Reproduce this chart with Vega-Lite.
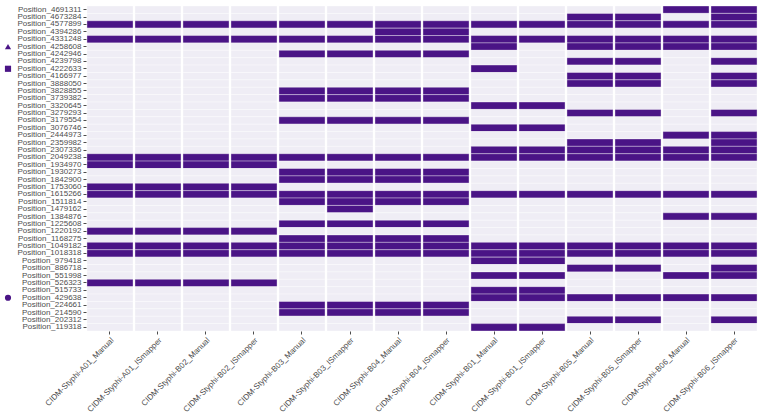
{
  "$schema": "https://vega.github.io/schema/vega-lite/v6.json",
  "padding": {"left": 4, "top": 5, "right": 5, "bottom": 5},
  "spacing": 4,
  "config": {
    "font": "Liberation Sans",
    "view": {"stroke": null},
    "axis": {"labelFont": "Liberation Sans", "labelFontSize": 8, "labelColor": "#4d4d4d", "tickColor": "#4d4d4d", "tickSize": 3, "domain": false, "grid": false, "title": null}
  },
  "datasets": {
    "markers": [
      {"p": "Position_4258608", "m": "triangle"},
      {"p": "Position_4222633", "m": "square"},
      {"p": "Position_429638", "m": "circle"}
    ],
    "cells": [
{"p":"Position_4691311","s":"CIDM-Styphi-A01_Manual","v":0},{"p":"Position_4691311","s":"CIDM-Styphi-A01_ISmapper","v":0},{"p":"Position_4691311","s":"CIDM-Styphi-B02_Manual","v":0},{"p":"Position_4691311","s":"CIDM-Styphi-B02_ISmapper","v":0},{"p":"Position_4691311","s":"CIDM-Styphi-B03_Manual","v":0},{"p":"Position_4691311","s":"CIDM-Styphi-B03_ISmapper","v":0},{"p":"Position_4691311","s":"CIDM-Styphi-B04_Manual","v":0},{"p":"Position_4691311","s":"CIDM-Styphi-B04_ISmapper","v":0},{"p":"Position_4691311","s":"CIDM-Styphi-B01_Manual","v":0},{"p":"Position_4691311","s":"CIDM-Styphi-B01_ISmapper","v":0},{"p":"Position_4691311","s":"CIDM-Styphi-B05_Manual","v":0},{"p":"Position_4691311","s":"CIDM-Styphi-B05_ISmapper","v":0},{"p":"Position_4691311","s":"CIDM-Styphi-B06_Manual","v":1},{"p":"Position_4691311","s":"CIDM-Styphi-B06_ISmapper","v":1},
{"p":"Position_4673284","s":"CIDM-Styphi-A01_Manual","v":0},{"p":"Position_4673284","s":"CIDM-Styphi-A01_ISmapper","v":0},{"p":"Position_4673284","s":"CIDM-Styphi-B02_Manual","v":0},{"p":"Position_4673284","s":"CIDM-Styphi-B02_ISmapper","v":0},{"p":"Position_4673284","s":"CIDM-Styphi-B03_Manual","v":0},{"p":"Position_4673284","s":"CIDM-Styphi-B03_ISmapper","v":0},{"p":"Position_4673284","s":"CIDM-Styphi-B04_Manual","v":0},{"p":"Position_4673284","s":"CIDM-Styphi-B04_ISmapper","v":0},{"p":"Position_4673284","s":"CIDM-Styphi-B01_Manual","v":0},{"p":"Position_4673284","s":"CIDM-Styphi-B01_ISmapper","v":0},{"p":"Position_4673284","s":"CIDM-Styphi-B05_Manual","v":1},{"p":"Position_4673284","s":"CIDM-Styphi-B05_ISmapper","v":1},{"p":"Position_4673284","s":"CIDM-Styphi-B06_Manual","v":0},{"p":"Position_4673284","s":"CIDM-Styphi-B06_ISmapper","v":1},
{"p":"Position_4577899","s":"CIDM-Styphi-A01_Manual","v":1},{"p":"Position_4577899","s":"CIDM-Styphi-A01_ISmapper","v":1},{"p":"Position_4577899","s":"CIDM-Styphi-B02_Manual","v":1},{"p":"Position_4577899","s":"CIDM-Styphi-B02_ISmapper","v":1},{"p":"Position_4577899","s":"CIDM-Styphi-B03_Manual","v":1},{"p":"Position_4577899","s":"CIDM-Styphi-B03_ISmapper","v":1},{"p":"Position_4577899","s":"CIDM-Styphi-B04_Manual","v":1},{"p":"Position_4577899","s":"CIDM-Styphi-B04_ISmapper","v":1},{"p":"Position_4577899","s":"CIDM-Styphi-B01_Manual","v":1},{"p":"Position_4577899","s":"CIDM-Styphi-B01_ISmapper","v":1},{"p":"Position_4577899","s":"CIDM-Styphi-B05_Manual","v":1},{"p":"Position_4577899","s":"CIDM-Styphi-B05_ISmapper","v":1},{"p":"Position_4577899","s":"CIDM-Styphi-B06_Manual","v":1},{"p":"Position_4577899","s":"CIDM-Styphi-B06_ISmapper","v":1},
{"p":"Position_4394286","s":"CIDM-Styphi-A01_Manual","v":0},{"p":"Position_4394286","s":"CIDM-Styphi-A01_ISmapper","v":0},{"p":"Position_4394286","s":"CIDM-Styphi-B02_Manual","v":0},{"p":"Position_4394286","s":"CIDM-Styphi-B02_ISmapper","v":0},{"p":"Position_4394286","s":"CIDM-Styphi-B03_Manual","v":0},{"p":"Position_4394286","s":"CIDM-Styphi-B03_ISmapper","v":0},{"p":"Position_4394286","s":"CIDM-Styphi-B04_Manual","v":1},{"p":"Position_4394286","s":"CIDM-Styphi-B04_ISmapper","v":1},{"p":"Position_4394286","s":"CIDM-Styphi-B01_Manual","v":0},{"p":"Position_4394286","s":"CIDM-Styphi-B01_ISmapper","v":0},{"p":"Position_4394286","s":"CIDM-Styphi-B05_Manual","v":0},{"p":"Position_4394286","s":"CIDM-Styphi-B05_ISmapper","v":0},{"p":"Position_4394286","s":"CIDM-Styphi-B06_Manual","v":0},{"p":"Position_4394286","s":"CIDM-Styphi-B06_ISmapper","v":0},
{"p":"Position_4331248","s":"CIDM-Styphi-A01_Manual","v":1},{"p":"Position_4331248","s":"CIDM-Styphi-A01_ISmapper","v":1},{"p":"Position_4331248","s":"CIDM-Styphi-B02_Manual","v":1},{"p":"Position_4331248","s":"CIDM-Styphi-B02_ISmapper","v":1},{"p":"Position_4331248","s":"CIDM-Styphi-B03_Manual","v":1},{"p":"Position_4331248","s":"CIDM-Styphi-B03_ISmapper","v":1},{"p":"Position_4331248","s":"CIDM-Styphi-B04_Manual","v":1},{"p":"Position_4331248","s":"CIDM-Styphi-B04_ISmapper","v":1},{"p":"Position_4331248","s":"CIDM-Styphi-B01_Manual","v":1},{"p":"Position_4331248","s":"CIDM-Styphi-B01_ISmapper","v":1},{"p":"Position_4331248","s":"CIDM-Styphi-B05_Manual","v":1},{"p":"Position_4331248","s":"CIDM-Styphi-B05_ISmapper","v":1},{"p":"Position_4331248","s":"CIDM-Styphi-B06_Manual","v":1},{"p":"Position_4331248","s":"CIDM-Styphi-B06_ISmapper","v":1},
{"p":"Position_4258608","s":"CIDM-Styphi-A01_Manual","v":0},{"p":"Position_4258608","s":"CIDM-Styphi-A01_ISmapper","v":0},{"p":"Position_4258608","s":"CIDM-Styphi-B02_Manual","v":0},{"p":"Position_4258608","s":"CIDM-Styphi-B02_ISmapper","v":0},{"p":"Position_4258608","s":"CIDM-Styphi-B03_Manual","v":0},{"p":"Position_4258608","s":"CIDM-Styphi-B03_ISmapper","v":0},{"p":"Position_4258608","s":"CIDM-Styphi-B04_Manual","v":0},{"p":"Position_4258608","s":"CIDM-Styphi-B04_ISmapper","v":0},{"p":"Position_4258608","s":"CIDM-Styphi-B01_Manual","v":1},{"p":"Position_4258608","s":"CIDM-Styphi-B01_ISmapper","v":0},{"p":"Position_4258608","s":"CIDM-Styphi-B05_Manual","v":1},{"p":"Position_4258608","s":"CIDM-Styphi-B05_ISmapper","v":1},{"p":"Position_4258608","s":"CIDM-Styphi-B06_Manual","v":1},{"p":"Position_4258608","s":"CIDM-Styphi-B06_ISmapper","v":1},
{"p":"Position_4242946","s":"CIDM-Styphi-A01_Manual","v":0},{"p":"Position_4242946","s":"CIDM-Styphi-A01_ISmapper","v":0},{"p":"Position_4242946","s":"CIDM-Styphi-B02_Manual","v":0},{"p":"Position_4242946","s":"CIDM-Styphi-B02_ISmapper","v":0},{"p":"Position_4242946","s":"CIDM-Styphi-B03_Manual","v":1},{"p":"Position_4242946","s":"CIDM-Styphi-B03_ISmapper","v":1},{"p":"Position_4242946","s":"CIDM-Styphi-B04_Manual","v":1},{"p":"Position_4242946","s":"CIDM-Styphi-B04_ISmapper","v":1},{"p":"Position_4242946","s":"CIDM-Styphi-B01_Manual","v":0},{"p":"Position_4242946","s":"CIDM-Styphi-B01_ISmapper","v":0},{"p":"Position_4242946","s":"CIDM-Styphi-B05_Manual","v":0},{"p":"Position_4242946","s":"CIDM-Styphi-B05_ISmapper","v":0},{"p":"Position_4242946","s":"CIDM-Styphi-B06_Manual","v":0},{"p":"Position_4242946","s":"CIDM-Styphi-B06_ISmapper","v":0},
{"p":"Position_4239798","s":"CIDM-Styphi-A01_Manual","v":0},{"p":"Position_4239798","s":"CIDM-Styphi-A01_ISmapper","v":0},{"p":"Position_4239798","s":"CIDM-Styphi-B02_Manual","v":0},{"p":"Position_4239798","s":"CIDM-Styphi-B02_ISmapper","v":0},{"p":"Position_4239798","s":"CIDM-Styphi-B03_Manual","v":0},{"p":"Position_4239798","s":"CIDM-Styphi-B03_ISmapper","v":0},{"p":"Position_4239798","s":"CIDM-Styphi-B04_Manual","v":0},{"p":"Position_4239798","s":"CIDM-Styphi-B04_ISmapper","v":0},{"p":"Position_4239798","s":"CIDM-Styphi-B01_Manual","v":0},{"p":"Position_4239798","s":"CIDM-Styphi-B01_ISmapper","v":0},{"p":"Position_4239798","s":"CIDM-Styphi-B05_Manual","v":1},{"p":"Position_4239798","s":"CIDM-Styphi-B05_ISmapper","v":1},{"p":"Position_4239798","s":"CIDM-Styphi-B06_Manual","v":0},{"p":"Position_4239798","s":"CIDM-Styphi-B06_ISmapper","v":1},
{"p":"Position_4222633","s":"CIDM-Styphi-A01_Manual","v":0},{"p":"Position_4222633","s":"CIDM-Styphi-A01_ISmapper","v":0},{"p":"Position_4222633","s":"CIDM-Styphi-B02_Manual","v":0},{"p":"Position_4222633","s":"CIDM-Styphi-B02_ISmapper","v":0},{"p":"Position_4222633","s":"CIDM-Styphi-B03_Manual","v":0},{"p":"Position_4222633","s":"CIDM-Styphi-B03_ISmapper","v":0},{"p":"Position_4222633","s":"CIDM-Styphi-B04_Manual","v":0},{"p":"Position_4222633","s":"CIDM-Styphi-B04_ISmapper","v":0},{"p":"Position_4222633","s":"CIDM-Styphi-B01_Manual","v":1},{"p":"Position_4222633","s":"CIDM-Styphi-B01_ISmapper","v":0},{"p":"Position_4222633","s":"CIDM-Styphi-B05_Manual","v":0},{"p":"Position_4222633","s":"CIDM-Styphi-B05_ISmapper","v":0},{"p":"Position_4222633","s":"CIDM-Styphi-B06_Manual","v":0},{"p":"Position_4222633","s":"CIDM-Styphi-B06_ISmapper","v":0},
{"p":"Position_4166977","s":"CIDM-Styphi-A01_Manual","v":0},{"p":"Position_4166977","s":"CIDM-Styphi-A01_ISmapper","v":0},{"p":"Position_4166977","s":"CIDM-Styphi-B02_Manual","v":0},{"p":"Position_4166977","s":"CIDM-Styphi-B02_ISmapper","v":0},{"p":"Position_4166977","s":"CIDM-Styphi-B03_Manual","v":0},{"p":"Position_4166977","s":"CIDM-Styphi-B03_ISmapper","v":0},{"p":"Position_4166977","s":"CIDM-Styphi-B04_Manual","v":0},{"p":"Position_4166977","s":"CIDM-Styphi-B04_ISmapper","v":0},{"p":"Position_4166977","s":"CIDM-Styphi-B01_Manual","v":0},{"p":"Position_4166977","s":"CIDM-Styphi-B01_ISmapper","v":0},{"p":"Position_4166977","s":"CIDM-Styphi-B05_Manual","v":1},{"p":"Position_4166977","s":"CIDM-Styphi-B05_ISmapper","v":1},{"p":"Position_4166977","s":"CIDM-Styphi-B06_Manual","v":0},{"p":"Position_4166977","s":"CIDM-Styphi-B06_ISmapper","v":1},
{"p":"Position_3888050","s":"CIDM-Styphi-A01_Manual","v":0},{"p":"Position_3888050","s":"CIDM-Styphi-A01_ISmapper","v":0},{"p":"Position_3888050","s":"CIDM-Styphi-B02_Manual","v":0},{"p":"Position_3888050","s":"CIDM-Styphi-B02_ISmapper","v":0},{"p":"Position_3888050","s":"CIDM-Styphi-B03_Manual","v":0},{"p":"Position_3888050","s":"CIDM-Styphi-B03_ISmapper","v":0},{"p":"Position_3888050","s":"CIDM-Styphi-B04_Manual","v":0},{"p":"Position_3888050","s":"CIDM-Styphi-B04_ISmapper","v":0},{"p":"Position_3888050","s":"CIDM-Styphi-B01_Manual","v":0},{"p":"Position_3888050","s":"CIDM-Styphi-B01_ISmapper","v":0},{"p":"Position_3888050","s":"CIDM-Styphi-B05_Manual","v":1},{"p":"Position_3888050","s":"CIDM-Styphi-B05_ISmapper","v":1},{"p":"Position_3888050","s":"CIDM-Styphi-B06_Manual","v":0},{"p":"Position_3888050","s":"CIDM-Styphi-B06_ISmapper","v":1},
{"p":"Position_3828855","s":"CIDM-Styphi-A01_Manual","v":0},{"p":"Position_3828855","s":"CIDM-Styphi-A01_ISmapper","v":0},{"p":"Position_3828855","s":"CIDM-Styphi-B02_Manual","v":0},{"p":"Position_3828855","s":"CIDM-Styphi-B02_ISmapper","v":0},{"p":"Position_3828855","s":"CIDM-Styphi-B03_Manual","v":1},{"p":"Position_3828855","s":"CIDM-Styphi-B03_ISmapper","v":1},{"p":"Position_3828855","s":"CIDM-Styphi-B04_Manual","v":1},{"p":"Position_3828855","s":"CIDM-Styphi-B04_ISmapper","v":1},{"p":"Position_3828855","s":"CIDM-Styphi-B01_Manual","v":0},{"p":"Position_3828855","s":"CIDM-Styphi-B01_ISmapper","v":0},{"p":"Position_3828855","s":"CIDM-Styphi-B05_Manual","v":0},{"p":"Position_3828855","s":"CIDM-Styphi-B05_ISmapper","v":0},{"p":"Position_3828855","s":"CIDM-Styphi-B06_Manual","v":0},{"p":"Position_3828855","s":"CIDM-Styphi-B06_ISmapper","v":0},
{"p":"Position_3739382","s":"CIDM-Styphi-A01_Manual","v":0},{"p":"Position_3739382","s":"CIDM-Styphi-A01_ISmapper","v":0},{"p":"Position_3739382","s":"CIDM-Styphi-B02_Manual","v":0},{"p":"Position_3739382","s":"CIDM-Styphi-B02_ISmapper","v":0},{"p":"Position_3739382","s":"CIDM-Styphi-B03_Manual","v":1},{"p":"Position_3739382","s":"CIDM-Styphi-B03_ISmapper","v":1},{"p":"Position_3739382","s":"CIDM-Styphi-B04_Manual","v":1},{"p":"Position_3739382","s":"CIDM-Styphi-B04_ISmapper","v":1},{"p":"Position_3739382","s":"CIDM-Styphi-B01_Manual","v":0},{"p":"Position_3739382","s":"CIDM-Styphi-B01_ISmapper","v":0},{"p":"Position_3739382","s":"CIDM-Styphi-B05_Manual","v":0},{"p":"Position_3739382","s":"CIDM-Styphi-B05_ISmapper","v":0},{"p":"Position_3739382","s":"CIDM-Styphi-B06_Manual","v":0},{"p":"Position_3739382","s":"CIDM-Styphi-B06_ISmapper","v":0},
{"p":"Position_3320645","s":"CIDM-Styphi-A01_Manual","v":0},{"p":"Position_3320645","s":"CIDM-Styphi-A01_ISmapper","v":0},{"p":"Position_3320645","s":"CIDM-Styphi-B02_Manual","v":0},{"p":"Position_3320645","s":"CIDM-Styphi-B02_ISmapper","v":0},{"p":"Position_3320645","s":"CIDM-Styphi-B03_Manual","v":0},{"p":"Position_3320645","s":"CIDM-Styphi-B03_ISmapper","v":0},{"p":"Position_3320645","s":"CIDM-Styphi-B04_Manual","v":0},{"p":"Position_3320645","s":"CIDM-Styphi-B04_ISmapper","v":0},{"p":"Position_3320645","s":"CIDM-Styphi-B01_Manual","v":1},{"p":"Position_3320645","s":"CIDM-Styphi-B01_ISmapper","v":1},{"p":"Position_3320645","s":"CIDM-Styphi-B05_Manual","v":0},{"p":"Position_3320645","s":"CIDM-Styphi-B05_ISmapper","v":0},{"p":"Position_3320645","s":"CIDM-Styphi-B06_Manual","v":0},{"p":"Position_3320645","s":"CIDM-Styphi-B06_ISmapper","v":0},
{"p":"Position_3279293","s":"CIDM-Styphi-A01_Manual","v":0},{"p":"Position_3279293","s":"CIDM-Styphi-A01_ISmapper","v":0},{"p":"Position_3279293","s":"CIDM-Styphi-B02_Manual","v":0},{"p":"Position_3279293","s":"CIDM-Styphi-B02_ISmapper","v":0},{"p":"Position_3279293","s":"CIDM-Styphi-B03_Manual","v":0},{"p":"Position_3279293","s":"CIDM-Styphi-B03_ISmapper","v":0},{"p":"Position_3279293","s":"CIDM-Styphi-B04_Manual","v":0},{"p":"Position_3279293","s":"CIDM-Styphi-B04_ISmapper","v":0},{"p":"Position_3279293","s":"CIDM-Styphi-B01_Manual","v":0},{"p":"Position_3279293","s":"CIDM-Styphi-B01_ISmapper","v":0},{"p":"Position_3279293","s":"CIDM-Styphi-B05_Manual","v":1},{"p":"Position_3279293","s":"CIDM-Styphi-B05_ISmapper","v":1},{"p":"Position_3279293","s":"CIDM-Styphi-B06_Manual","v":0},{"p":"Position_3279293","s":"CIDM-Styphi-B06_ISmapper","v":1},
{"p":"Position_3179554","s":"CIDM-Styphi-A01_Manual","v":0},{"p":"Position_3179554","s":"CIDM-Styphi-A01_ISmapper","v":0},{"p":"Position_3179554","s":"CIDM-Styphi-B02_Manual","v":0},{"p":"Position_3179554","s":"CIDM-Styphi-B02_ISmapper","v":0},{"p":"Position_3179554","s":"CIDM-Styphi-B03_Manual","v":1},{"p":"Position_3179554","s":"CIDM-Styphi-B03_ISmapper","v":1},{"p":"Position_3179554","s":"CIDM-Styphi-B04_Manual","v":1},{"p":"Position_3179554","s":"CIDM-Styphi-B04_ISmapper","v":1},{"p":"Position_3179554","s":"CIDM-Styphi-B01_Manual","v":0},{"p":"Position_3179554","s":"CIDM-Styphi-B01_ISmapper","v":0},{"p":"Position_3179554","s":"CIDM-Styphi-B05_Manual","v":0},{"p":"Position_3179554","s":"CIDM-Styphi-B05_ISmapper","v":0},{"p":"Position_3179554","s":"CIDM-Styphi-B06_Manual","v":0},{"p":"Position_3179554","s":"CIDM-Styphi-B06_ISmapper","v":0},
{"p":"Position_3076746","s":"CIDM-Styphi-A01_Manual","v":0},{"p":"Position_3076746","s":"CIDM-Styphi-A01_ISmapper","v":0},{"p":"Position_3076746","s":"CIDM-Styphi-B02_Manual","v":0},{"p":"Position_3076746","s":"CIDM-Styphi-B02_ISmapper","v":0},{"p":"Position_3076746","s":"CIDM-Styphi-B03_Manual","v":0},{"p":"Position_3076746","s":"CIDM-Styphi-B03_ISmapper","v":0},{"p":"Position_3076746","s":"CIDM-Styphi-B04_Manual","v":0},{"p":"Position_3076746","s":"CIDM-Styphi-B04_ISmapper","v":0},{"p":"Position_3076746","s":"CIDM-Styphi-B01_Manual","v":1},{"p":"Position_3076746","s":"CIDM-Styphi-B01_ISmapper","v":1},{"p":"Position_3076746","s":"CIDM-Styphi-B05_Manual","v":0},{"p":"Position_3076746","s":"CIDM-Styphi-B05_ISmapper","v":0},{"p":"Position_3076746","s":"CIDM-Styphi-B06_Manual","v":0},{"p":"Position_3076746","s":"CIDM-Styphi-B06_ISmapper","v":0},
{"p":"Position_2444973","s":"CIDM-Styphi-A01_Manual","v":0},{"p":"Position_2444973","s":"CIDM-Styphi-A01_ISmapper","v":0},{"p":"Position_2444973","s":"CIDM-Styphi-B02_Manual","v":0},{"p":"Position_2444973","s":"CIDM-Styphi-B02_ISmapper","v":0},{"p":"Position_2444973","s":"CIDM-Styphi-B03_Manual","v":0},{"p":"Position_2444973","s":"CIDM-Styphi-B03_ISmapper","v":0},{"p":"Position_2444973","s":"CIDM-Styphi-B04_Manual","v":0},{"p":"Position_2444973","s":"CIDM-Styphi-B04_ISmapper","v":0},{"p":"Position_2444973","s":"CIDM-Styphi-B01_Manual","v":0},{"p":"Position_2444973","s":"CIDM-Styphi-B01_ISmapper","v":0},{"p":"Position_2444973","s":"CIDM-Styphi-B05_Manual","v":0},{"p":"Position_2444973","s":"CIDM-Styphi-B05_ISmapper","v":0},{"p":"Position_2444973","s":"CIDM-Styphi-B06_Manual","v":1},{"p":"Position_2444973","s":"CIDM-Styphi-B06_ISmapper","v":1},
{"p":"Position_2359982","s":"CIDM-Styphi-A01_Manual","v":0},{"p":"Position_2359982","s":"CIDM-Styphi-A01_ISmapper","v":0},{"p":"Position_2359982","s":"CIDM-Styphi-B02_Manual","v":0},{"p":"Position_2359982","s":"CIDM-Styphi-B02_ISmapper","v":0},{"p":"Position_2359982","s":"CIDM-Styphi-B03_Manual","v":0},{"p":"Position_2359982","s":"CIDM-Styphi-B03_ISmapper","v":0},{"p":"Position_2359982","s":"CIDM-Styphi-B04_Manual","v":0},{"p":"Position_2359982","s":"CIDM-Styphi-B04_ISmapper","v":0},{"p":"Position_2359982","s":"CIDM-Styphi-B01_Manual","v":0},{"p":"Position_2359982","s":"CIDM-Styphi-B01_ISmapper","v":0},{"p":"Position_2359982","s":"CIDM-Styphi-B05_Manual","v":1},{"p":"Position_2359982","s":"CIDM-Styphi-B05_ISmapper","v":1},{"p":"Position_2359982","s":"CIDM-Styphi-B06_Manual","v":0},{"p":"Position_2359982","s":"CIDM-Styphi-B06_ISmapper","v":1},
{"p":"Position_2307336","s":"CIDM-Styphi-A01_Manual","v":0},{"p":"Position_2307336","s":"CIDM-Styphi-A01_ISmapper","v":0},{"p":"Position_2307336","s":"CIDM-Styphi-B02_Manual","v":0},{"p":"Position_2307336","s":"CIDM-Styphi-B02_ISmapper","v":0},{"p":"Position_2307336","s":"CIDM-Styphi-B03_Manual","v":0},{"p":"Position_2307336","s":"CIDM-Styphi-B03_ISmapper","v":0},{"p":"Position_2307336","s":"CIDM-Styphi-B04_Manual","v":0},{"p":"Position_2307336","s":"CIDM-Styphi-B04_ISmapper","v":0},{"p":"Position_2307336","s":"CIDM-Styphi-B01_Manual","v":1},{"p":"Position_2307336","s":"CIDM-Styphi-B01_ISmapper","v":1},{"p":"Position_2307336","s":"CIDM-Styphi-B05_Manual","v":1},{"p":"Position_2307336","s":"CIDM-Styphi-B05_ISmapper","v":1},{"p":"Position_2307336","s":"CIDM-Styphi-B06_Manual","v":1},{"p":"Position_2307336","s":"CIDM-Styphi-B06_ISmapper","v":1},
{"p":"Position_2049238","s":"CIDM-Styphi-A01_Manual","v":1},{"p":"Position_2049238","s":"CIDM-Styphi-A01_ISmapper","v":1},{"p":"Position_2049238","s":"CIDM-Styphi-B02_Manual","v":1},{"p":"Position_2049238","s":"CIDM-Styphi-B02_ISmapper","v":1},{"p":"Position_2049238","s":"CIDM-Styphi-B03_Manual","v":1},{"p":"Position_2049238","s":"CIDM-Styphi-B03_ISmapper","v":1},{"p":"Position_2049238","s":"CIDM-Styphi-B04_Manual","v":1},{"p":"Position_2049238","s":"CIDM-Styphi-B04_ISmapper","v":1},{"p":"Position_2049238","s":"CIDM-Styphi-B01_Manual","v":1},{"p":"Position_2049238","s":"CIDM-Styphi-B01_ISmapper","v":1},{"p":"Position_2049238","s":"CIDM-Styphi-B05_Manual","v":1},{"p":"Position_2049238","s":"CIDM-Styphi-B05_ISmapper","v":1},{"p":"Position_2049238","s":"CIDM-Styphi-B06_Manual","v":1},{"p":"Position_2049238","s":"CIDM-Styphi-B06_ISmapper","v":1},
{"p":"Position_1934970","s":"CIDM-Styphi-A01_Manual","v":1},{"p":"Position_1934970","s":"CIDM-Styphi-A01_ISmapper","v":1},{"p":"Position_1934970","s":"CIDM-Styphi-B02_Manual","v":1},{"p":"Position_1934970","s":"CIDM-Styphi-B02_ISmapper","v":1},{"p":"Position_1934970","s":"CIDM-Styphi-B03_Manual","v":0},{"p":"Position_1934970","s":"CIDM-Styphi-B03_ISmapper","v":0},{"p":"Position_1934970","s":"CIDM-Styphi-B04_Manual","v":0},{"p":"Position_1934970","s":"CIDM-Styphi-B04_ISmapper","v":0},{"p":"Position_1934970","s":"CIDM-Styphi-B01_Manual","v":0},{"p":"Position_1934970","s":"CIDM-Styphi-B01_ISmapper","v":0},{"p":"Position_1934970","s":"CIDM-Styphi-B05_Manual","v":0},{"p":"Position_1934970","s":"CIDM-Styphi-B05_ISmapper","v":0},{"p":"Position_1934970","s":"CIDM-Styphi-B06_Manual","v":0},{"p":"Position_1934970","s":"CIDM-Styphi-B06_ISmapper","v":0},
{"p":"Position_1930273","s":"CIDM-Styphi-A01_Manual","v":0},{"p":"Position_1930273","s":"CIDM-Styphi-A01_ISmapper","v":0},{"p":"Position_1930273","s":"CIDM-Styphi-B02_Manual","v":0},{"p":"Position_1930273","s":"CIDM-Styphi-B02_ISmapper","v":0},{"p":"Position_1930273","s":"CIDM-Styphi-B03_Manual","v":1},{"p":"Position_1930273","s":"CIDM-Styphi-B03_ISmapper","v":1},{"p":"Position_1930273","s":"CIDM-Styphi-B04_Manual","v":1},{"p":"Position_1930273","s":"CIDM-Styphi-B04_ISmapper","v":1},{"p":"Position_1930273","s":"CIDM-Styphi-B01_Manual","v":0},{"p":"Position_1930273","s":"CIDM-Styphi-B01_ISmapper","v":0},{"p":"Position_1930273","s":"CIDM-Styphi-B05_Manual","v":0},{"p":"Position_1930273","s":"CIDM-Styphi-B05_ISmapper","v":0},{"p":"Position_1930273","s":"CIDM-Styphi-B06_Manual","v":0},{"p":"Position_1930273","s":"CIDM-Styphi-B06_ISmapper","v":0},
{"p":"Position_1842900","s":"CIDM-Styphi-A01_Manual","v":0},{"p":"Position_1842900","s":"CIDM-Styphi-A01_ISmapper","v":0},{"p":"Position_1842900","s":"CIDM-Styphi-B02_Manual","v":0},{"p":"Position_1842900","s":"CIDM-Styphi-B02_ISmapper","v":0},{"p":"Position_1842900","s":"CIDM-Styphi-B03_Manual","v":1},{"p":"Position_1842900","s":"CIDM-Styphi-B03_ISmapper","v":1},{"p":"Position_1842900","s":"CIDM-Styphi-B04_Manual","v":1},{"p":"Position_1842900","s":"CIDM-Styphi-B04_ISmapper","v":1},{"p":"Position_1842900","s":"CIDM-Styphi-B01_Manual","v":0},{"p":"Position_1842900","s":"CIDM-Styphi-B01_ISmapper","v":0},{"p":"Position_1842900","s":"CIDM-Styphi-B05_Manual","v":0},{"p":"Position_1842900","s":"CIDM-Styphi-B05_ISmapper","v":0},{"p":"Position_1842900","s":"CIDM-Styphi-B06_Manual","v":0},{"p":"Position_1842900","s":"CIDM-Styphi-B06_ISmapper","v":0},
{"p":"Position_1753060","s":"CIDM-Styphi-A01_Manual","v":1},{"p":"Position_1753060","s":"CIDM-Styphi-A01_ISmapper","v":1},{"p":"Position_1753060","s":"CIDM-Styphi-B02_Manual","v":1},{"p":"Position_1753060","s":"CIDM-Styphi-B02_ISmapper","v":1},{"p":"Position_1753060","s":"CIDM-Styphi-B03_Manual","v":0},{"p":"Position_1753060","s":"CIDM-Styphi-B03_ISmapper","v":0},{"p":"Position_1753060","s":"CIDM-Styphi-B04_Manual","v":0},{"p":"Position_1753060","s":"CIDM-Styphi-B04_ISmapper","v":0},{"p":"Position_1753060","s":"CIDM-Styphi-B01_Manual","v":0},{"p":"Position_1753060","s":"CIDM-Styphi-B01_ISmapper","v":0},{"p":"Position_1753060","s":"CIDM-Styphi-B05_Manual","v":0},{"p":"Position_1753060","s":"CIDM-Styphi-B05_ISmapper","v":0},{"p":"Position_1753060","s":"CIDM-Styphi-B06_Manual","v":0},{"p":"Position_1753060","s":"CIDM-Styphi-B06_ISmapper","v":0},
{"p":"Position_1615266","s":"CIDM-Styphi-A01_Manual","v":1},{"p":"Position_1615266","s":"CIDM-Styphi-A01_ISmapper","v":1},{"p":"Position_1615266","s":"CIDM-Styphi-B02_Manual","v":1},{"p":"Position_1615266","s":"CIDM-Styphi-B02_ISmapper","v":1},{"p":"Position_1615266","s":"CIDM-Styphi-B03_Manual","v":1},{"p":"Position_1615266","s":"CIDM-Styphi-B03_ISmapper","v":1},{"p":"Position_1615266","s":"CIDM-Styphi-B04_Manual","v":1},{"p":"Position_1615266","s":"CIDM-Styphi-B04_ISmapper","v":1},{"p":"Position_1615266","s":"CIDM-Styphi-B01_Manual","v":1},{"p":"Position_1615266","s":"CIDM-Styphi-B01_ISmapper","v":1},{"p":"Position_1615266","s":"CIDM-Styphi-B05_Manual","v":1},{"p":"Position_1615266","s":"CIDM-Styphi-B05_ISmapper","v":1},{"p":"Position_1615266","s":"CIDM-Styphi-B06_Manual","v":1},{"p":"Position_1615266","s":"CIDM-Styphi-B06_ISmapper","v":1},
{"p":"Position_1511814","s":"CIDM-Styphi-A01_Manual","v":0},{"p":"Position_1511814","s":"CIDM-Styphi-A01_ISmapper","v":0},{"p":"Position_1511814","s":"CIDM-Styphi-B02_Manual","v":0},{"p":"Position_1511814","s":"CIDM-Styphi-B02_ISmapper","v":0},{"p":"Position_1511814","s":"CIDM-Styphi-B03_Manual","v":1},{"p":"Position_1511814","s":"CIDM-Styphi-B03_ISmapper","v":1},{"p":"Position_1511814","s":"CIDM-Styphi-B04_Manual","v":1},{"p":"Position_1511814","s":"CIDM-Styphi-B04_ISmapper","v":1},{"p":"Position_1511814","s":"CIDM-Styphi-B01_Manual","v":0},{"p":"Position_1511814","s":"CIDM-Styphi-B01_ISmapper","v":0},{"p":"Position_1511814","s":"CIDM-Styphi-B05_Manual","v":0},{"p":"Position_1511814","s":"CIDM-Styphi-B05_ISmapper","v":0},{"p":"Position_1511814","s":"CIDM-Styphi-B06_Manual","v":0},{"p":"Position_1511814","s":"CIDM-Styphi-B06_ISmapper","v":0},
{"p":"Position_1479162","s":"CIDM-Styphi-A01_Manual","v":0},{"p":"Position_1479162","s":"CIDM-Styphi-A01_ISmapper","v":0},{"p":"Position_1479162","s":"CIDM-Styphi-B02_Manual","v":0},{"p":"Position_1479162","s":"CIDM-Styphi-B02_ISmapper","v":0},{"p":"Position_1479162","s":"CIDM-Styphi-B03_Manual","v":0},{"p":"Position_1479162","s":"CIDM-Styphi-B03_ISmapper","v":1},{"p":"Position_1479162","s":"CIDM-Styphi-B04_Manual","v":0},{"p":"Position_1479162","s":"CIDM-Styphi-B04_ISmapper","v":0},{"p":"Position_1479162","s":"CIDM-Styphi-B01_Manual","v":0},{"p":"Position_1479162","s":"CIDM-Styphi-B01_ISmapper","v":0},{"p":"Position_1479162","s":"CIDM-Styphi-B05_Manual","v":0},{"p":"Position_1479162","s":"CIDM-Styphi-B05_ISmapper","v":0},{"p":"Position_1479162","s":"CIDM-Styphi-B06_Manual","v":0},{"p":"Position_1479162","s":"CIDM-Styphi-B06_ISmapper","v":0},
{"p":"Position_1384876","s":"CIDM-Styphi-A01_Manual","v":0},{"p":"Position_1384876","s":"CIDM-Styphi-A01_ISmapper","v":0},{"p":"Position_1384876","s":"CIDM-Styphi-B02_Manual","v":0},{"p":"Position_1384876","s":"CIDM-Styphi-B02_ISmapper","v":0},{"p":"Position_1384876","s":"CIDM-Styphi-B03_Manual","v":0},{"p":"Position_1384876","s":"CIDM-Styphi-B03_ISmapper","v":0},{"p":"Position_1384876","s":"CIDM-Styphi-B04_Manual","v":0},{"p":"Position_1384876","s":"CIDM-Styphi-B04_ISmapper","v":0},{"p":"Position_1384876","s":"CIDM-Styphi-B01_Manual","v":0},{"p":"Position_1384876","s":"CIDM-Styphi-B01_ISmapper","v":0},{"p":"Position_1384876","s":"CIDM-Styphi-B05_Manual","v":0},{"p":"Position_1384876","s":"CIDM-Styphi-B05_ISmapper","v":0},{"p":"Position_1384876","s":"CIDM-Styphi-B06_Manual","v":1},{"p":"Position_1384876","s":"CIDM-Styphi-B06_ISmapper","v":1},
{"p":"Position_1225608","s":"CIDM-Styphi-A01_Manual","v":0},{"p":"Position_1225608","s":"CIDM-Styphi-A01_ISmapper","v":0},{"p":"Position_1225608","s":"CIDM-Styphi-B02_Manual","v":0},{"p":"Position_1225608","s":"CIDM-Styphi-B02_ISmapper","v":0},{"p":"Position_1225608","s":"CIDM-Styphi-B03_Manual","v":1},{"p":"Position_1225608","s":"CIDM-Styphi-B03_ISmapper","v":1},{"p":"Position_1225608","s":"CIDM-Styphi-B04_Manual","v":1},{"p":"Position_1225608","s":"CIDM-Styphi-B04_ISmapper","v":1},{"p":"Position_1225608","s":"CIDM-Styphi-B01_Manual","v":0},{"p":"Position_1225608","s":"CIDM-Styphi-B01_ISmapper","v":0},{"p":"Position_1225608","s":"CIDM-Styphi-B05_Manual","v":0},{"p":"Position_1225608","s":"CIDM-Styphi-B05_ISmapper","v":0},{"p":"Position_1225608","s":"CIDM-Styphi-B06_Manual","v":0},{"p":"Position_1225608","s":"CIDM-Styphi-B06_ISmapper","v":0},
{"p":"Position_1220192","s":"CIDM-Styphi-A01_Manual","v":1},{"p":"Position_1220192","s":"CIDM-Styphi-A01_ISmapper","v":1},{"p":"Position_1220192","s":"CIDM-Styphi-B02_Manual","v":1},{"p":"Position_1220192","s":"CIDM-Styphi-B02_ISmapper","v":1},{"p":"Position_1220192","s":"CIDM-Styphi-B03_Manual","v":0},{"p":"Position_1220192","s":"CIDM-Styphi-B03_ISmapper","v":0},{"p":"Position_1220192","s":"CIDM-Styphi-B04_Manual","v":0},{"p":"Position_1220192","s":"CIDM-Styphi-B04_ISmapper","v":0},{"p":"Position_1220192","s":"CIDM-Styphi-B01_Manual","v":0},{"p":"Position_1220192","s":"CIDM-Styphi-B01_ISmapper","v":0},{"p":"Position_1220192","s":"CIDM-Styphi-B05_Manual","v":0},{"p":"Position_1220192","s":"CIDM-Styphi-B05_ISmapper","v":0},{"p":"Position_1220192","s":"CIDM-Styphi-B06_Manual","v":0},{"p":"Position_1220192","s":"CIDM-Styphi-B06_ISmapper","v":0},
{"p":"Position_1168275","s":"CIDM-Styphi-A01_Manual","v":0},{"p":"Position_1168275","s":"CIDM-Styphi-A01_ISmapper","v":0},{"p":"Position_1168275","s":"CIDM-Styphi-B02_Manual","v":0},{"p":"Position_1168275","s":"CIDM-Styphi-B02_ISmapper","v":0},{"p":"Position_1168275","s":"CIDM-Styphi-B03_Manual","v":1},{"p":"Position_1168275","s":"CIDM-Styphi-B03_ISmapper","v":1},{"p":"Position_1168275","s":"CIDM-Styphi-B04_Manual","v":1},{"p":"Position_1168275","s":"CIDM-Styphi-B04_ISmapper","v":1},{"p":"Position_1168275","s":"CIDM-Styphi-B01_Manual","v":0},{"p":"Position_1168275","s":"CIDM-Styphi-B01_ISmapper","v":0},{"p":"Position_1168275","s":"CIDM-Styphi-B05_Manual","v":0},{"p":"Position_1168275","s":"CIDM-Styphi-B05_ISmapper","v":0},{"p":"Position_1168275","s":"CIDM-Styphi-B06_Manual","v":0},{"p":"Position_1168275","s":"CIDM-Styphi-B06_ISmapper","v":0},
{"p":"Position_1049182","s":"CIDM-Styphi-A01_Manual","v":1},{"p":"Position_1049182","s":"CIDM-Styphi-A01_ISmapper","v":1},{"p":"Position_1049182","s":"CIDM-Styphi-B02_Manual","v":1},{"p":"Position_1049182","s":"CIDM-Styphi-B02_ISmapper","v":1},{"p":"Position_1049182","s":"CIDM-Styphi-B03_Manual","v":1},{"p":"Position_1049182","s":"CIDM-Styphi-B03_ISmapper","v":1},{"p":"Position_1049182","s":"CIDM-Styphi-B04_Manual","v":1},{"p":"Position_1049182","s":"CIDM-Styphi-B04_ISmapper","v":1},{"p":"Position_1049182","s":"CIDM-Styphi-B01_Manual","v":1},{"p":"Position_1049182","s":"CIDM-Styphi-B01_ISmapper","v":1},{"p":"Position_1049182","s":"CIDM-Styphi-B05_Manual","v":1},{"p":"Position_1049182","s":"CIDM-Styphi-B05_ISmapper","v":1},{"p":"Position_1049182","s":"CIDM-Styphi-B06_Manual","v":1},{"p":"Position_1049182","s":"CIDM-Styphi-B06_ISmapper","v":1},
{"p":"Position_1018318","s":"CIDM-Styphi-A01_Manual","v":1},{"p":"Position_1018318","s":"CIDM-Styphi-A01_ISmapper","v":1},{"p":"Position_1018318","s":"CIDM-Styphi-B02_Manual","v":1},{"p":"Position_1018318","s":"CIDM-Styphi-B02_ISmapper","v":1},{"p":"Position_1018318","s":"CIDM-Styphi-B03_Manual","v":1},{"p":"Position_1018318","s":"CIDM-Styphi-B03_ISmapper","v":1},{"p":"Position_1018318","s":"CIDM-Styphi-B04_Manual","v":1},{"p":"Position_1018318","s":"CIDM-Styphi-B04_ISmapper","v":1},{"p":"Position_1018318","s":"CIDM-Styphi-B01_Manual","v":1},{"p":"Position_1018318","s":"CIDM-Styphi-B01_ISmapper","v":1},{"p":"Position_1018318","s":"CIDM-Styphi-B05_Manual","v":1},{"p":"Position_1018318","s":"CIDM-Styphi-B05_ISmapper","v":1},{"p":"Position_1018318","s":"CIDM-Styphi-B06_Manual","v":1},{"p":"Position_1018318","s":"CIDM-Styphi-B06_ISmapper","v":1},
{"p":"Position_979418","s":"CIDM-Styphi-A01_Manual","v":0},{"p":"Position_979418","s":"CIDM-Styphi-A01_ISmapper","v":0},{"p":"Position_979418","s":"CIDM-Styphi-B02_Manual","v":0},{"p":"Position_979418","s":"CIDM-Styphi-B02_ISmapper","v":0},{"p":"Position_979418","s":"CIDM-Styphi-B03_Manual","v":0},{"p":"Position_979418","s":"CIDM-Styphi-B03_ISmapper","v":0},{"p":"Position_979418","s":"CIDM-Styphi-B04_Manual","v":0},{"p":"Position_979418","s":"CIDM-Styphi-B04_ISmapper","v":0},{"p":"Position_979418","s":"CIDM-Styphi-B01_Manual","v":1},{"p":"Position_979418","s":"CIDM-Styphi-B01_ISmapper","v":1},{"p":"Position_979418","s":"CIDM-Styphi-B05_Manual","v":0},{"p":"Position_979418","s":"CIDM-Styphi-B05_ISmapper","v":0},{"p":"Position_979418","s":"CIDM-Styphi-B06_Manual","v":0},{"p":"Position_979418","s":"CIDM-Styphi-B06_ISmapper","v":0},
{"p":"Position_886718","s":"CIDM-Styphi-A01_Manual","v":0},{"p":"Position_886718","s":"CIDM-Styphi-A01_ISmapper","v":0},{"p":"Position_886718","s":"CIDM-Styphi-B02_Manual","v":0},{"p":"Position_886718","s":"CIDM-Styphi-B02_ISmapper","v":0},{"p":"Position_886718","s":"CIDM-Styphi-B03_Manual","v":0},{"p":"Position_886718","s":"CIDM-Styphi-B03_ISmapper","v":0},{"p":"Position_886718","s":"CIDM-Styphi-B04_Manual","v":0},{"p":"Position_886718","s":"CIDM-Styphi-B04_ISmapper","v":0},{"p":"Position_886718","s":"CIDM-Styphi-B01_Manual","v":0},{"p":"Position_886718","s":"CIDM-Styphi-B01_ISmapper","v":0},{"p":"Position_886718","s":"CIDM-Styphi-B05_Manual","v":1},{"p":"Position_886718","s":"CIDM-Styphi-B05_ISmapper","v":1},{"p":"Position_886718","s":"CIDM-Styphi-B06_Manual","v":0},{"p":"Position_886718","s":"CIDM-Styphi-B06_ISmapper","v":1},
{"p":"Position_551998","s":"CIDM-Styphi-A01_Manual","v":0},{"p":"Position_551998","s":"CIDM-Styphi-A01_ISmapper","v":0},{"p":"Position_551998","s":"CIDM-Styphi-B02_Manual","v":0},{"p":"Position_551998","s":"CIDM-Styphi-B02_ISmapper","v":0},{"p":"Position_551998","s":"CIDM-Styphi-B03_Manual","v":0},{"p":"Position_551998","s":"CIDM-Styphi-B03_ISmapper","v":0},{"p":"Position_551998","s":"CIDM-Styphi-B04_Manual","v":0},{"p":"Position_551998","s":"CIDM-Styphi-B04_ISmapper","v":0},{"p":"Position_551998","s":"CIDM-Styphi-B01_Manual","v":1},{"p":"Position_551998","s":"CIDM-Styphi-B01_ISmapper","v":1},{"p":"Position_551998","s":"CIDM-Styphi-B05_Manual","v":0},{"p":"Position_551998","s":"CIDM-Styphi-B05_ISmapper","v":0},{"p":"Position_551998","s":"CIDM-Styphi-B06_Manual","v":1},{"p":"Position_551998","s":"CIDM-Styphi-B06_ISmapper","v":1},
{"p":"Position_526323","s":"CIDM-Styphi-A01_Manual","v":1},{"p":"Position_526323","s":"CIDM-Styphi-A01_ISmapper","v":1},{"p":"Position_526323","s":"CIDM-Styphi-B02_Manual","v":1},{"p":"Position_526323","s":"CIDM-Styphi-B02_ISmapper","v":1},{"p":"Position_526323","s":"CIDM-Styphi-B03_Manual","v":0},{"p":"Position_526323","s":"CIDM-Styphi-B03_ISmapper","v":0},{"p":"Position_526323","s":"CIDM-Styphi-B04_Manual","v":0},{"p":"Position_526323","s":"CIDM-Styphi-B04_ISmapper","v":0},{"p":"Position_526323","s":"CIDM-Styphi-B01_Manual","v":0},{"p":"Position_526323","s":"CIDM-Styphi-B01_ISmapper","v":0},{"p":"Position_526323","s":"CIDM-Styphi-B05_Manual","v":0},{"p":"Position_526323","s":"CIDM-Styphi-B05_ISmapper","v":0},{"p":"Position_526323","s":"CIDM-Styphi-B06_Manual","v":0},{"p":"Position_526323","s":"CIDM-Styphi-B06_ISmapper","v":0},
{"p":"Position_515733","s":"CIDM-Styphi-A01_Manual","v":0},{"p":"Position_515733","s":"CIDM-Styphi-A01_ISmapper","v":0},{"p":"Position_515733","s":"CIDM-Styphi-B02_Manual","v":0},{"p":"Position_515733","s":"CIDM-Styphi-B02_ISmapper","v":0},{"p":"Position_515733","s":"CIDM-Styphi-B03_Manual","v":0},{"p":"Position_515733","s":"CIDM-Styphi-B03_ISmapper","v":0},{"p":"Position_515733","s":"CIDM-Styphi-B04_Manual","v":0},{"p":"Position_515733","s":"CIDM-Styphi-B04_ISmapper","v":0},{"p":"Position_515733","s":"CIDM-Styphi-B01_Manual","v":1},{"p":"Position_515733","s":"CIDM-Styphi-B01_ISmapper","v":1},{"p":"Position_515733","s":"CIDM-Styphi-B05_Manual","v":0},{"p":"Position_515733","s":"CIDM-Styphi-B05_ISmapper","v":0},{"p":"Position_515733","s":"CIDM-Styphi-B06_Manual","v":0},{"p":"Position_515733","s":"CIDM-Styphi-B06_ISmapper","v":0},
{"p":"Position_429638","s":"CIDM-Styphi-A01_Manual","v":0},{"p":"Position_429638","s":"CIDM-Styphi-A01_ISmapper","v":0},{"p":"Position_429638","s":"CIDM-Styphi-B02_Manual","v":0},{"p":"Position_429638","s":"CIDM-Styphi-B02_ISmapper","v":0},{"p":"Position_429638","s":"CIDM-Styphi-B03_Manual","v":0},{"p":"Position_429638","s":"CIDM-Styphi-B03_ISmapper","v":0},{"p":"Position_429638","s":"CIDM-Styphi-B04_Manual","v":0},{"p":"Position_429638","s":"CIDM-Styphi-B04_ISmapper","v":0},{"p":"Position_429638","s":"CIDM-Styphi-B01_Manual","v":1},{"p":"Position_429638","s":"CIDM-Styphi-B01_ISmapper","v":1},{"p":"Position_429638","s":"CIDM-Styphi-B05_Manual","v":1},{"p":"Position_429638","s":"CIDM-Styphi-B05_ISmapper","v":1},{"p":"Position_429638","s":"CIDM-Styphi-B06_Manual","v":1},{"p":"Position_429638","s":"CIDM-Styphi-B06_ISmapper","v":1},
{"p":"Position_224661","s":"CIDM-Styphi-A01_Manual","v":0},{"p":"Position_224661","s":"CIDM-Styphi-A01_ISmapper","v":0},{"p":"Position_224661","s":"CIDM-Styphi-B02_Manual","v":0},{"p":"Position_224661","s":"CIDM-Styphi-B02_ISmapper","v":0},{"p":"Position_224661","s":"CIDM-Styphi-B03_Manual","v":1},{"p":"Position_224661","s":"CIDM-Styphi-B03_ISmapper","v":1},{"p":"Position_224661","s":"CIDM-Styphi-B04_Manual","v":1},{"p":"Position_224661","s":"CIDM-Styphi-B04_ISmapper","v":1},{"p":"Position_224661","s":"CIDM-Styphi-B01_Manual","v":0},{"p":"Position_224661","s":"CIDM-Styphi-B01_ISmapper","v":0},{"p":"Position_224661","s":"CIDM-Styphi-B05_Manual","v":0},{"p":"Position_224661","s":"CIDM-Styphi-B05_ISmapper","v":0},{"p":"Position_224661","s":"CIDM-Styphi-B06_Manual","v":0},{"p":"Position_224661","s":"CIDM-Styphi-B06_ISmapper","v":0},
{"p":"Position_214590","s":"CIDM-Styphi-A01_Manual","v":0},{"p":"Position_214590","s":"CIDM-Styphi-A01_ISmapper","v":0},{"p":"Position_214590","s":"CIDM-Styphi-B02_Manual","v":0},{"p":"Position_214590","s":"CIDM-Styphi-B02_ISmapper","v":0},{"p":"Position_214590","s":"CIDM-Styphi-B03_Manual","v":1},{"p":"Position_214590","s":"CIDM-Styphi-B03_ISmapper","v":1},{"p":"Position_214590","s":"CIDM-Styphi-B04_Manual","v":1},{"p":"Position_214590","s":"CIDM-Styphi-B04_ISmapper","v":1},{"p":"Position_214590","s":"CIDM-Styphi-B01_Manual","v":0},{"p":"Position_214590","s":"CIDM-Styphi-B01_ISmapper","v":0},{"p":"Position_214590","s":"CIDM-Styphi-B05_Manual","v":0},{"p":"Position_214590","s":"CIDM-Styphi-B05_ISmapper","v":0},{"p":"Position_214590","s":"CIDM-Styphi-B06_Manual","v":0},{"p":"Position_214590","s":"CIDM-Styphi-B06_ISmapper","v":0},
{"p":"Position_202312","s":"CIDM-Styphi-A01_Manual","v":0},{"p":"Position_202312","s":"CIDM-Styphi-A01_ISmapper","v":0},{"p":"Position_202312","s":"CIDM-Styphi-B02_Manual","v":0},{"p":"Position_202312","s":"CIDM-Styphi-B02_ISmapper","v":0},{"p":"Position_202312","s":"CIDM-Styphi-B03_Manual","v":0},{"p":"Position_202312","s":"CIDM-Styphi-B03_ISmapper","v":0},{"p":"Position_202312","s":"CIDM-Styphi-B04_Manual","v":0},{"p":"Position_202312","s":"CIDM-Styphi-B04_ISmapper","v":0},{"p":"Position_202312","s":"CIDM-Styphi-B01_Manual","v":0},{"p":"Position_202312","s":"CIDM-Styphi-B01_ISmapper","v":0},{"p":"Position_202312","s":"CIDM-Styphi-B05_Manual","v":1},{"p":"Position_202312","s":"CIDM-Styphi-B05_ISmapper","v":1},{"p":"Position_202312","s":"CIDM-Styphi-B06_Manual","v":0},{"p":"Position_202312","s":"CIDM-Styphi-B06_ISmapper","v":1},
{"p":"Position_119318","s":"CIDM-Styphi-A01_Manual","v":0},{"p":"Position_119318","s":"CIDM-Styphi-A01_ISmapper","v":0},{"p":"Position_119318","s":"CIDM-Styphi-B02_Manual","v":0},{"p":"Position_119318","s":"CIDM-Styphi-B02_ISmapper","v":0},{"p":"Position_119318","s":"CIDM-Styphi-B03_Manual","v":0},{"p":"Position_119318","s":"CIDM-Styphi-B03_ISmapper","v":0},{"p":"Position_119318","s":"CIDM-Styphi-B04_Manual","v":0},{"p":"Position_119318","s":"CIDM-Styphi-B04_ISmapper","v":0},{"p":"Position_119318","s":"CIDM-Styphi-B01_Manual","v":1},{"p":"Position_119318","s":"CIDM-Styphi-B01_ISmapper","v":1},{"p":"Position_119318","s":"CIDM-Styphi-B05_Manual","v":0},{"p":"Position_119318","s":"CIDM-Styphi-B05_ISmapper","v":0},{"p":"Position_119318","s":"CIDM-Styphi-B06_Manual","v":0},{"p":"Position_119318","s":"CIDM-Styphi-B06_ISmapper","v":0}
    ]
  },
  "hconcat": [
    {
      "width": 8,
      "height": 325,
      "data": {"name": "markers"},
      "mark": {"type": "point", "filled": true, "opacity": 1, "size": 38, "color": "#4a1486"},
      "encoding": {
        "y": {"field": "p", "type": "nominal", "axis": null,
          "scale": {"paddingInner": 0, "paddingOuter": 0, "domain": ["Position_4691311","Position_4673284","Position_4577899","Position_4394286","Position_4331248","Position_4258608","Position_4242946","Position_4239798","Position_4222633","Position_4166977","Position_3888050","Position_3828855","Position_3739382","Position_3320645","Position_3279293","Position_3179554","Position_3076746","Position_2444973","Position_2359982","Position_2307336","Position_2049238","Position_1934970","Position_1930273","Position_1842900","Position_1753060","Position_1615266","Position_1511814","Position_1479162","Position_1384876","Position_1225608","Position_1220192","Position_1168275","Position_1049182","Position_1018318","Position_979418","Position_886718","Position_551998","Position_526323","Position_515733","Position_429638","Position_224661","Position_214590","Position_202312","Position_119318"]}},
        "shape": {"field": "m", "type": "nominal", "legend": null,
          "scale": {"domain": ["triangle", "square", "circle"], "range": ["triangle-up", "square", "circle"]}}
      }
    },
    {
      "width": 672,
      "height": 325,
      "data": {"name": "cells"},
      "mark": {"type": "rect", "stroke": "#ffffff", "strokeWidth": 0.8, "strokeOpacity": 0.45},
      "encoding": {
        "x": {"field": "s", "type": "nominal", "sort": null,
          "scale": {"paddingInner": 0.04, "paddingOuter": 0.02},
          "axis": {"labelAngle": -45, "labelPadding": 2}},
        "y": {"field": "p", "type": "nominal", "sort": null,
          "scale": {"paddingInner": 0, "paddingOuter": 0},
          "axis": {"labelPadding": 2}},
        "color": {"field": "v", "type": "nominal", "legend": null,
          "scale": {"domain": [0, 1], "range": ["#efedf5", "#4a1486"]}}
      }
    }
  ]
}
